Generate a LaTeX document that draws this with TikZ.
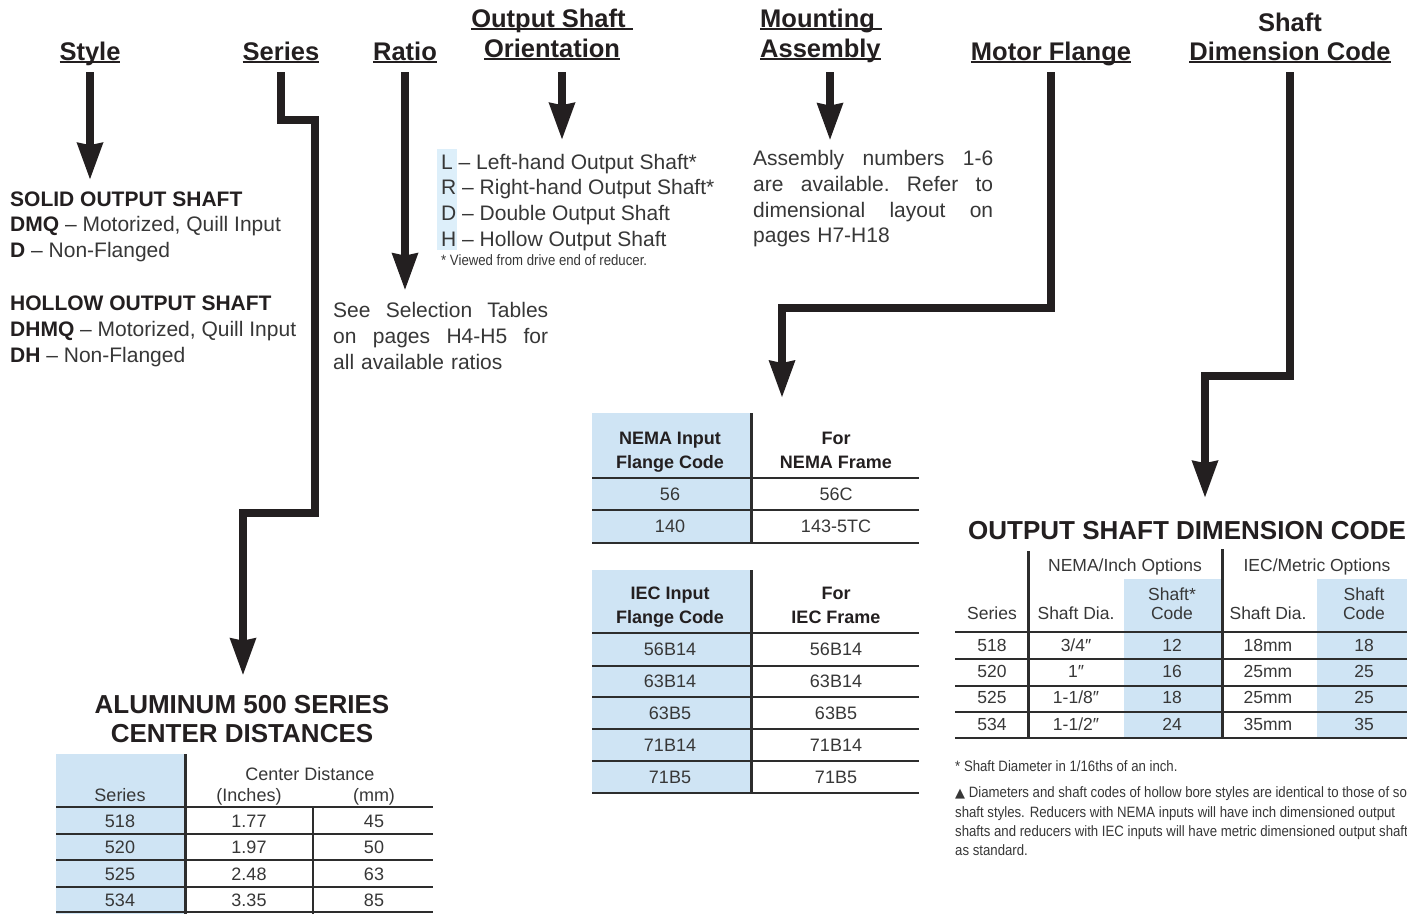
\documentclass[tikz,border=0pt]{standalone}
\usepackage{fontspec}
\setmainfont{Liberation Sans}
\newfontfamily\condfont[FakeStretch=0.88]{Liberation Sans}
\newfontfamily\symfont{DejaVu Sans}
\usetikzlibrary{arrows.meta,calc,positioning}
\definecolor{inkblack}{RGB}{35,31,32}
\definecolor{bodygray}{RGB}{55,55,55}
\definecolor{paleblue}{RGB}{207,228,244}
\definecolor{tagblue}{RGB}{221,239,250}
\definecolor{rulegray}{RGB}{45,45,45}

\newsavebox\hdrbox
\newcommand\hdrline[1]{\sbox\hdrbox{#1}\rlap{\rule[-3pt]{\wd\hdrbox}{1.6pt}}\usebox\hdrbox}
\newcommand\kw[1]{\textcolor{inkblack}{\textbf{#1}}}
\newcommand\hdrfont{\fontsize{25.5}{30}\selectfont\bfseries}
\newcommand\bodyfont{\fontsize{21}{25.8}\selectfont}
\newcommand\ttlfont{\fontsize{26}{29}\selectfont\bfseries}
\newcommand\tabfont{\fontsize{18}{24}\selectfont}
\newcommand\odcfont{\fontsize{17.5}{19}\selectfont}
\newcommand\notefont{\condfont\fontsize{15}{19.2}\selectfont}

\begin{document}
\begin{tikzpicture}[
    x=1pt, y=-1pt,
    hdr/.style={font=\hdrfont, text=inkblack, inner sep=0pt, anchor=base},
    body/.style={font=\bodyfont, text=bodygray, inner sep=0pt, align=left, anchor=base west},
    note/.style={font=\notefont, text=bodygray, inner sep=0pt, align=left, anchor=base west},
    ttl/.style={font=\ttlfont, text=inkblack, inner sep=0pt, anchor=base},
    cell/.style={font=\tabfont, text=bodygray, inner sep=0pt, anchor=base},
    headcell/.style={font=\tabfont\bfseries, text=inkblack, inner sep=0pt, anchor=base, align=center},
    odc/.style={font=\odcfont, text=bodygray, inner sep=0pt, anchor=base, align=center},
    hrule/.style={draw=rulegray, line width=2.4pt},
    vrule/.style={draw=rulegray, line width=3pt},
    bigarrow/.style={draw=inkblack, line width=8pt, line join=miter,
        -{Stealth[length=37pt, width=27pt, inset=3pt, line width=0pt]}}
]
    \fill[white] (0,0) rectangle (1407,913);
    \useasboundingbox (0,0) rectangle (1407,913);

    % Headings
    \node[hdr] (hStyle) at (90,60) {\hdrline{Style}};
    \node[hdr] (hSeries) at (281,60) {\hdrline{Series}};
    \node[hdr] (hRatio) at (405,60) {\hdrline{Ratio}};
    \node[hdr] (hOrientA) at (552,27) {\hdrline{Output Shaft\ }};
    \node[hdr] (hOrient) at (552,57) {\hdrline{Orientation}};
    \node[hdr, anchor=base west] (hMountA) at (760,27) {\hdrline{Mounting\ }};
    \node[hdr, anchor=base west] (hMount) at (760,57) {\hdrline{Assembly}};
    \node[hdr] (hMotor) at (1051,60) {\hdrline{Motor Flange}};
    \node[hdr] (hShaftA) at (1290,31) {Shaft};
    \node[hdr] (hShaft) at (1290,60) {\hdrline{Dimension Code}};

    % Option texts (base = last line)
    \node[body] (styleList) at (10,362.5) {\kw{SOLID OUTPUT SHAFT}\\
        \kw{DMQ} -- Motorized, Quill Input\\
        \kw{D} -- Non-Flanged\\[27.5pt]
        \kw{HOLLOW OUTPUT SHAFT}\\
        \kw{DHMQ} -- Motorized, Quill Input\\
        \kw{DH} -- Non-Flanged};
    \node[body, text width=215pt] (ratioNote) at (333,317.5) {\makebox[\linewidth]{See\hfill Selection\hfill Tables}\\
        \makebox[\linewidth]{on\hfill pages\hfill H4-H5\hfill for}\\
        all available ratios};
    \fill[tagblue] (437,149) rectangle (457,250);
    \node[body] (oriList) at (441,246.5) {L -- Left-hand Output Shaft*\\
        R -- Right-hand Output Shaft*\\
        D -- Double Output Shaft\\
        H -- Hollow Output Shaft};
    \node[note] (oriNote) at (441,265) {* Viewed from drive end of reducer.};
    \node[body, text width=240pt] (mountNote) at (753,165.5) {\makebox[\linewidth]{Assembly\hfill numbers\hfill 1-6}\\
        \makebox[\linewidth]{are\hfill available.\hfill Refer\hfill to}\\
        \makebox[\linewidth]{dimensional\hfill layout\hfill on}\\
        pages H7-H18};

    % Center distance table
    \node[ttl] (cdTitle) at (242,713) {ALUMINUM 500 SERIES};
    \node[ttl] (cdTitleB) at (242,742) {CENTER DISTANCES};
    \fill[paleblue] (56,754) rectangle (185,920);
    \foreach \yy in {807,834,860,887,912} \draw[hrule] (56,\yy) -- (433,\yy);
    \draw[vrule] (185,754) -- (185,920);
    \draw[hrule] (313,807) -- (313,920);
    \node[cell] (cdHead) at (310,780.5) {Center Distance};
    \node[cell] (cdSeries) at (120,801.5) {Series};
    \node[cell] (cdInch) at (249,801.5) {(Inches)};
    \node[cell] (cdMm) at (374,801.5) {(mm)};
    \foreach \cdser/\cdin/\cdmm [count=\row] in {518/1.77/45,520/1.97/50,525/2.48/63,534/3.35/85}{
        \pgfmathsetmacro\yb{827.5+26.4*(\row-1)}
        \node[cell] (cd-\row-a) at (120,\yb) {\cdser};
        \node[cell] (cd-\row-b) at (249,\yb) {\cdin};
        \node[cell] (cd-\row-c) at (374,\yb) {\cdmm};
    }

    % NEMA flange table
    \coordinate (nemaTop) at (592,413);
    \fill[paleblue] (nemaTop) rectangle (751,543);
    \foreach \yy in {478,510,543} \draw[hrule] (592,\yy) -- (919,\yy);
    \draw[vrule] (751,413) -- (751,543);
    \node[headcell] (nemaHeadA) at (670,468) {NEMA Input\\Flange Code};
    \node[headcell] (nemaHeadB) at (836,468) {For\\NEMA Frame};
    \foreach \fc/\fr [count=\row] in {56/56C,140/143-5TC}{
        \pgfmathsetmacro\yb{500.5+32*(\row-1)}
        \node[cell] (nema-\row-a) at (670,\yb) {\fc};
        \node[cell] (nema-\row-b) at (836,\yb) {\fr};
    }

    % IEC flange table
    \fill[paleblue] (592,570) rectangle (751,793);
    \foreach \yy in {633,666,697,729,761,793} \draw[hrule] (592,\yy) -- (919,\yy);
    \draw[vrule] (751,570) -- (751,793);
    \node[headcell] (iecHeadA) at (670,623) {IEC Input\\Flange Code};
    \node[headcell] (iecHeadB) at (836,623) {For\\IEC Frame};
    \foreach \fc/\fr [count=\row] in {56B14/56B14,63B14/63B14,63B5/63B5,71B14/71B14,71B5/71B5}{
        \pgfmathsetmacro\yb{655.5+32*(\row-1)}
        \node[cell] (iec-\row-a) at (670,\yb) {\fc};
        \node[cell] (iec-\row-b) at (836,\yb) {\fr};
    }

    % Output shaft dimension code table
    \node[ttl, anchor=base west] (odcTitle) at (968,539) {OUTPUT SHAFT DIMENSION CODE};
    \fill[paleblue] (1124,579) rectangle (1221,738);
    \fill[paleblue] (1317,579) rectangle (1420,738);
    \foreach \yy in {632,659,686,712,738} \draw[hrule] (955,\yy) -- (1420,\yy);
    \draw[vrule] (1028,551) -- (1028,738);
    \draw[vrule] (1222,549) -- (1222,738);
    \node[odc] (odcNema) at (1125,571) {NEMA/Inch Options};
    \node[odc] (odcIec) at (1317,571) {IEC/Metric Options};
    \node[odc] (odcSeries) at (992,619) {Series};
    \node[odc] (odcDiaA) at (1076,619) {Shaft Dia.};
    \node[odc] (odcCodeA) at (1172,619) {Shaft*\\Code};
    \node[odc] (odcDiaB) at (1268,619) {Shaft Dia.};
    \node[odc] (odcCodeB) at (1364,619) {Shaft\\Code};
    \foreach \os/\od/\oc/\md/\mc [count=\row] in {518/{3/4″}/12/18mm/18,520/{1″}/16/25mm/25,525/{1-1/8″}/18/25mm/25,534/{1-1/2″}/24/35mm/35}{
        \pgfmathsetmacro\yb{651+26.4*(\row-1)}
        \node[odc] (odc-\row-a) at (992,\yb) {\os};
        \node[odc] (odc-\row-b) at (1076,\yb) {\od};
        \node[odc] (odc-\row-c) at (1172,\yb) {\oc};
        \node[odc] (odc-\row-d) at (1268,\yb) {\md};
        \node[odc] (odc-\row-e) at (1364,\yb) {\mc};
    }
    \node[note] (odcStar) at (955,771) {* Shaft Diameter in 1/16ths of an inch.};
    \node[note] (odcNote) at (955,855.5) {{\symfont\fontsize{13}{15}\selectfont ▲} Diameters and shaft codes of hollow bore styles are identical to those of solid\\
        shaft styles. Reducers with NEMA inputs will have inch dimensioned output\\
        shafts and reducers with IEC inputs will have metric dimensioned output shafts\\
        as standard.};

    % Arrows
    \coordinate (tStyle) at ($(hStyle.base)+(0,12)$);
    \coordinate (tSeries) at ($(hSeries.base)+(0,12)$);
    \coordinate (tRatio) at ($(hRatio.base)+(0,12)$);
    \coordinate (tOrient) at ($(hOrient.base)+(10,15)$);
    \coordinate (tMount) at ($(hMount.base west)+(70,15)$);
    \coordinate (tMotor) at ($(hMotor.base)+(0,12)$);
    \coordinate (tShaft) at ($(hShaft.base)+(0,12)$);
    \coordinate (seriesBendA) at (315,120);
    \coordinate (seriesBendB) at (243,513);
    \coordinate (motorBend) at (782,308);
    \coordinate (shaftBend) at (1205,376);

    \draw[bigarrow] (tStyle) -- ([yshift=12pt]tStyle |- styleList.north);
    \draw[bigarrow] (tSeries) |- (seriesBendA) |- (seriesBendB) -- ([yshift=20pt]seriesBendB |- cdTitle.north);
    \draw[bigarrow] (tRatio) -- ([yshift=12.5pt]tRatio |- ratioNote.north);
    \draw[bigarrow] (tOrient) -- ([yshift=14.5pt]tOrient |- oriList.north);
    \draw[bigarrow] (tMount) -- ([yshift=10.5pt]tMount |- mountNote.north);
    \draw[bigarrow] (tMotor) |- (motorBend) -- ([yshift=16pt]motorBend |- nemaTop);
    \draw[bigarrow] (tShaft) |- (shaftBend) -- ([yshift=23.5pt]shaftBend |- odcTitle.north);
\end{tikzpicture}
\end{document}
